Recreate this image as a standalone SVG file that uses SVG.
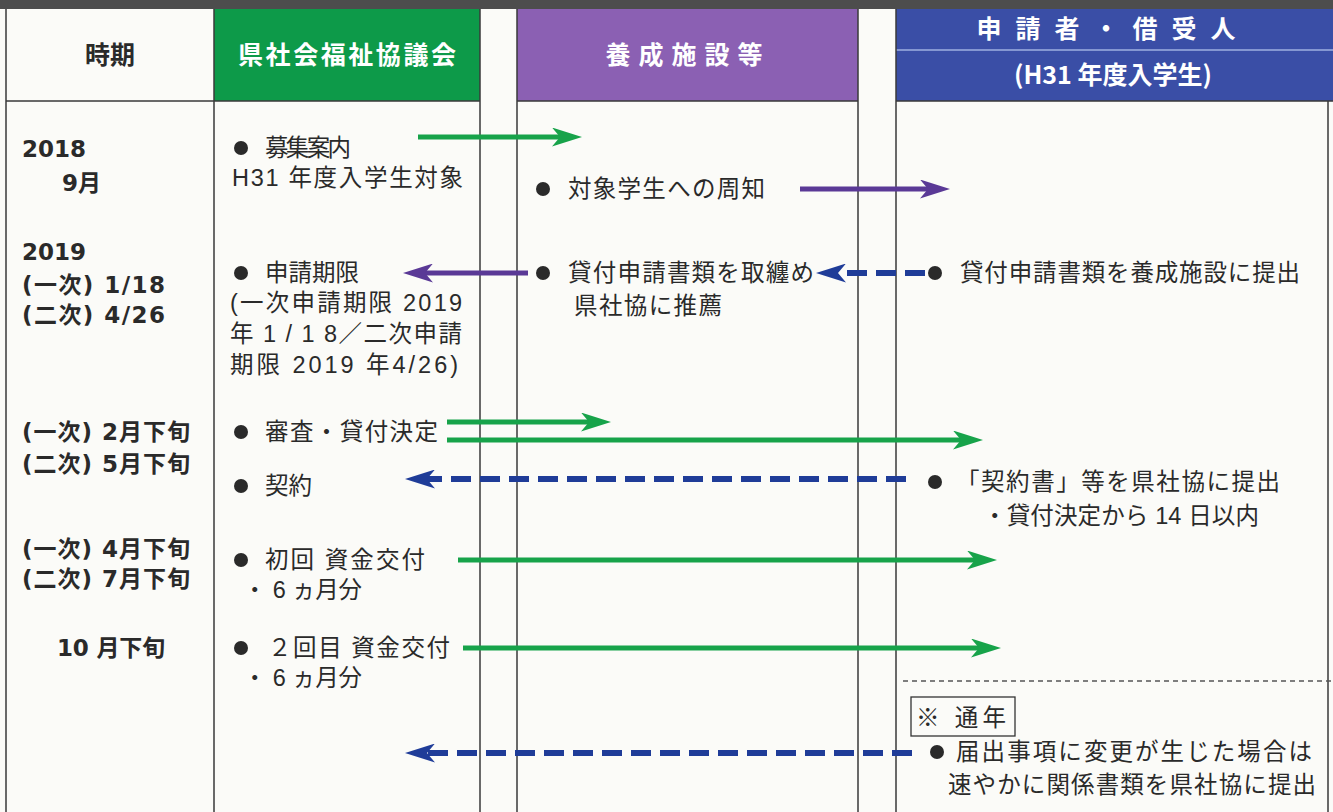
<svg xmlns="http://www.w3.org/2000/svg" width="1333" height="812" viewBox="0 0 1333 812">
<style>
.bg{fill:#fbfbf8}
.grid{stroke:#3a3a3a;stroke-width:1.5;fill:none}
.hd{font-family:"Noto Sans CJK JP",sans-serif;font-weight:bold;font-size:25px;fill:#fff;text-anchor:middle}
.tm{font-family:"DejaVu Sans","Noto Sans CJK JP",sans-serif;font-weight:bold;font-size:23px;fill:#2a2a2a}
.tx{font-family:"Liberation Sans","Noto Sans CJK JP",sans-serif;font-size:23.5px;fill:#2a2a2a}
.dot{fill:#2a2a2a}
.g{stroke:#17a34a;stroke-width:5;fill:none;marker-end:url(#mg)}
.p{stroke:#5a3996;stroke-width:5;fill:none;marker-end:url(#mp)}
.b{stroke:#1f3c98;stroke-width:6;fill:none;stroke-dasharray:20 9;marker-end:url(#mb)}
</style>
<defs>
<marker id="mg" markerUnits="userSpaceOnUse" viewBox="0 0 30 19" markerWidth="30" markerHeight="19" refX="8" refY="9.5" orient="auto"><path d="M0,0 L30,9.5 L0,19 L8,9.5 Z" fill="#17a34a"/></marker>
<marker id="mp" markerUnits="userSpaceOnUse" viewBox="0 0 30 19" markerWidth="30" markerHeight="19" refX="8" refY="9.5" orient="auto"><path d="M0,0 L30,9.5 L0,19 L8,9.5 Z" fill="#5a3996"/></marker>
<marker id="mb" markerUnits="userSpaceOnUse" viewBox="0 0 30 19" markerWidth="30" markerHeight="19" refX="8" refY="9.5" orient="auto"><path d="M0,0 L30,9.5 L0,19 L8,9.5 Z" fill="#1f3c98"/></marker>
</defs>
<rect class="bg" x="0" y="0" width="1333" height="812"/>
<rect x="0" y="0" width="1333" height="9" fill="#4d4d4d"/>

<g id="header">
<rect x="214" y="9" width="266" height="92" fill="#0d9a49"/>
<rect x="517" y="9" width="341" height="92" fill="#8b60b3"/>
<rect x="896" y="9" width="437" height="92" fill="#3a4ea6"/>
<line x1="896" y1="50" x2="1333" y2="50" stroke="#9fb0e0" stroke-width="1.5"/>
<text x="110" y="64" class="hd" style="fill:#2a2a2a">時期</text>
<text x="347" y="64" class="hd" textLength="218">県社会福祉協議会</text>
<text x="688" y="64" class="hd" letter-spacing="8">養成施設等</text>
<text x="1113" y="38" class="hd" letter-spacing="14">申請者・借受人</text>
<text x="1113" y="84" class="hd">(H31 年度入学生)</text>
</g>

<g id="grid">
<path class="grid" d="M6,9V812 M214,9V812 M480,9V812 M517,9V812 M858,9V812 M896,9V812 M1328,101V812 M6,101H480 M517,101H858 M896,101H1333"/>
<line x1="903" y1="681" x2="1333" y2="681" stroke="#555" stroke-width="1.3" stroke-dasharray="5 4"/>
</g>

<g id="time">
<text class="tm" x="22" y="157">2018</text>
<text class="tm" x="62" y="191">9月</text>
<text class="tm" x="22" y="260">2019</text>
<text class="tm" x="22" y="293" textLength="143">(一次) 1/18</text>
<text class="tm" x="22" y="323" textLength="143">(二次) 4/26</text>
<text class="tm" x="22" y="440" textLength="168">(一次) 2月下旬</text>
<text class="tm" x="22" y="472" textLength="168">(二次) 5月下旬</text>
<text class="tm" x="22" y="557" textLength="168">(一次) 4月下旬</text>
<text class="tm" x="22" y="587" textLength="168">(二次) 7月下旬</text>
<text class="tm" x="57" y="656" textLength="108">10 月下旬</text>
</g>

<g id="council">
<circle class="dot" cx="241" cy="148" r="7"/>
<text class="tx" x="265" y="156" textLength="86">募集案内</text>
<text class="tx" x="232" y="186" textLength="231">H31 年度入学生対象</text>
<circle class="dot" cx="241" cy="273" r="7"/>
<text class="tx" x="265" y="281">申請期限</text>
<text class="tx" x="230" y="311" textLength="232">(一次申請期限 2019</text>
<text class="tx" x="230" y="342" textLength="232">年 1 / 1 8／二次申請</text>
<text class="tx" x="230" y="373" textLength="228">期限 2019 年4/26)</text>
<circle class="dot" cx="241" cy="432" r="7"/>
<text class="tx" x="265" y="440" textLength="173">審査・貸付決定</text>
<circle class="dot" cx="241" cy="486" r="7"/>
<text class="tx" x="265" y="494">契約</text>
<circle class="dot" cx="241" cy="560" r="7"/>
<text class="tx" x="265" y="568" textLength="160">初回  資金交付</text>
<text class="tx" x="243" y="598" textLength="119">・ 6 ヵ月分</text>
<circle class="dot" cx="241" cy="648" r="7"/>
<text class="tx" x="268" y="656" textLength="182">２回目  資金交付</text>
<text class="tx" x="243" y="686" textLength="119">・ 6 ヵ月分</text>
</g>

<g id="school">
<circle class="dot" cx="543" cy="189" r="7"/>
<text class="tx" x="568" y="197" textLength="197">対象学生への周知</text>
<circle class="dot" cx="543" cy="273" r="7"/>
<text class="tx" x="568" y="281" textLength="246">貸付申請書類を取纏め</text>
<text class="tx" x="574" y="314" textLength="148">県社協に推薦</text>
</g>

<g id="applicant">
<circle class="dot" cx="935" cy="273" r="7"/>
<text class="tx" x="960" y="281" textLength="340">貸付申請書類を養成施設に提出</text>
<circle class="dot" cx="935" cy="482" r="7"/>
<text class="tx" x="956" y="490" textLength="324">「契約書」等を県社協に提出</text>
<text class="tx" x="983" y="524" textLength="276">・貸付決定から 14 日以内</text>
<rect x="911" y="697" width="104" height="39" fill="none" stroke="#333" stroke-width="1.3"/>
<text class="tx" x="916" y="726" textLength="90">※  通年</text>
<circle class="dot" cx="937" cy="752" r="7"/>
<text class="tx" x="956" y="760" textLength="356">届出事項に変更が生じた場合は</text>
<text class="tx" x="948" y="793" textLength="368">速やかに関係書類を県社協に提出</text>
</g>

<g id="connectors">
<line class="g" x1="418" y1="137" x2="560" y2="137"/>
<line class="p" x1="800" y1="189" x2="928" y2="189"/>
<line class="p" x1="528" y1="273" x2="425" y2="273"/>
<line class="b" x1="925" y1="273" x2="838" y2="273"/>
<line class="g" x1="447" y1="422" x2="589" y2="422"/>
<line class="g" x1="447" y1="440" x2="961" y2="440"/>
<line class="b" x1="906" y1="479" x2="427" y2="479"/>
<line class="g" x1="458" y1="560" x2="975" y2="560"/>
<line class="g" x1="463" y1="648" x2="979" y2="648"/>
<line class="b" x1="912" y1="753" x2="427" y2="753"/>
</g>
</svg>
